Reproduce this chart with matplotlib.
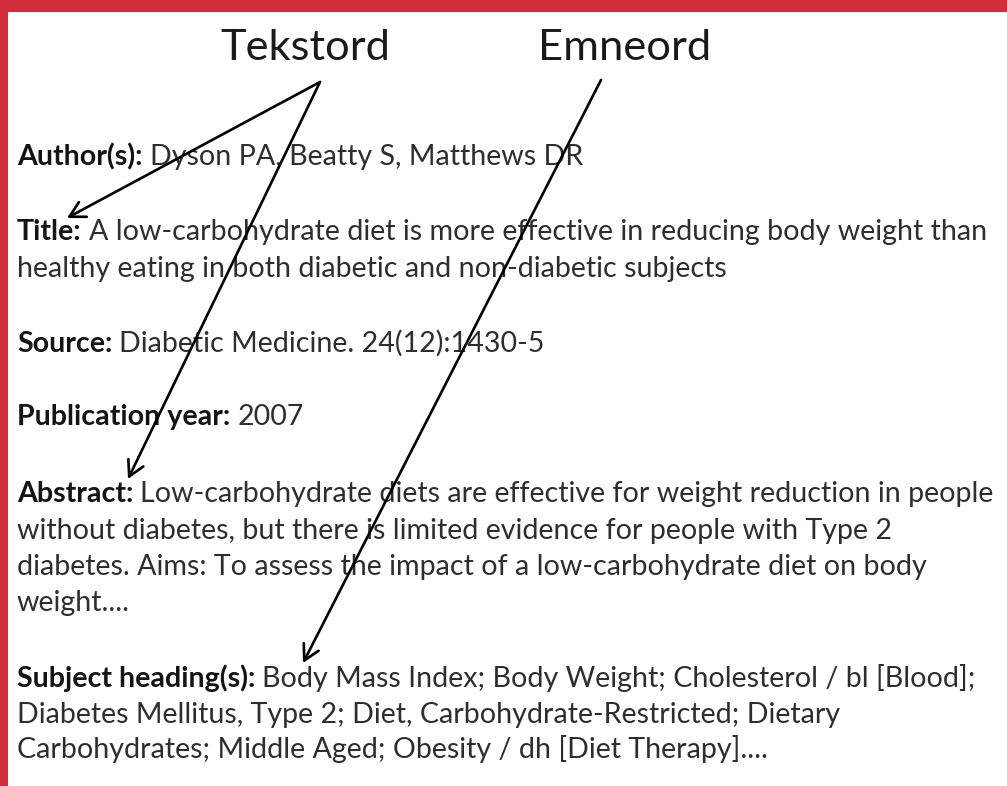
import matplotlib
matplotlib.use("Agg")
import matplotlib.pyplot as plt
from matplotlib.patches import Rectangle

# ---- content ----
header_words = ["Tekstord", "Emneord"]
header_x = [220, 538]
header_baseline = 60

# (bold label, normal text, baseline y)
lines = [
    ("Author(s):", "Dyson PA, Beatty S, Matthews DR", 165),
    ("Title:", "A low-carbohydrate diet is more effective in reducing body weight than", 240),
    ("", "healthy eating in both diabetic and non-diabetic subjects", 277),
    ("Source:", "Diabetic Medicine. 24(12):1430-5", 352),
    ("Publication year:", "2007", 425),
    ("Abstract:", "Low-carbohydrate diets are effective for weight reduction in people", 502),
    ("", "without diabetes, but there is limited evidence for people with Type 2", 538.5),
    ("", "diabetes. Aims: To assess the impact of a low-carbohydrate diet on body", 575),
    ("", "weight....", 611.5),
    ("Subject heading(s):", "Body Mass Index; Body Weight; Cholesterol / bl [Blood];", 687),
    ("", "Diabetes Mellitus, Type 2; Diet, Carbohydrate-Restricted; Dietary", 723),
    ("", "Carbohydrates; Middle Aged; Obesity / dh [Diet Therapy]....", 758),
]

# arrows: (origin, tip)
arrows = [
    ((320, 82), (67, 218)),
    ((320, 82), (128, 479)),
    ((601, 80), (303, 663)),
]

W, H = 1007, 786
FONT = "Lato"
TEXT_X = 17
RED = "#cf2e3a"

fig = plt.figure(figsize=(W / 100, H / 100), dpi=100)
ax = fig.add_axes([0, 0, 1, 1])
ax.set_xlim(0, W)
ax.set_ylim(H, 0)
ax.axis("off")
fig.patch.set_facecolor("white")

# red frame
ax.add_patch(Rectangle((0, 0), W, 12, color=RED, lw=0, zorder=5))
ax.add_patch(Rectangle((0, 0), 8, H, color=RED, lw=0, zorder=5))

renderer = fig.canvas.get_renderer()


def width_px(s, size, weight="normal"):
    t = ax.text(0, 0, s, fontsize=size, family=FONT, weight=weight)
    w = t.get_window_extent(renderer).width
    t.remove()
    return w


def space_px(size, weight="normal"):
    return width_px("a a", size, weight) - width_px("aa", size, weight)


# fit body font size to the title's first line (x 17 -> 990)
base = 20
b, n, _ = lines[1]
w0 = width_px(b, base, "bold") + space_px(base, "bold") + width_px(n, base)
body_size = base * (990 - TEXT_X) / w0

# header size fit to "Tekstord" width (220 -> 390)
head_size = 36 * 170 / width_px(header_words[0], 36)

for word, x in zip(header_words, header_x):
    ax.text(x, header_baseline, word, fontsize=head_size, family=FONT,
            color="#1a1a1a", va="baseline", ha="left")

for bold, normal, y in lines:
    x = TEXT_X
    if bold:
        ax.text(x, y, bold, fontsize=body_size, family=FONT, weight="bold",
                color="#141414", va="baseline", ha="left")
        x += width_px(bold, body_size, "bold") + space_px(body_size, "bold")
    ax.text(x, y, normal, fontsize=body_size, family=FONT,
            color="#2e2e2e", va="baseline", ha="left")

for (x0, y0), (x1, y1) in arrows:
    ax.annotate("", xy=(x1, y1), xytext=(x0, y0),
                arrowprops=dict(arrowstyle="->,head_length=0.55,head_width=0.3",
                                lw=1.9, color="black", shrinkA=0, shrinkB=0,
                                mutation_scale=20))

fig.savefig("out.png", dpi=100, facecolor="white")
